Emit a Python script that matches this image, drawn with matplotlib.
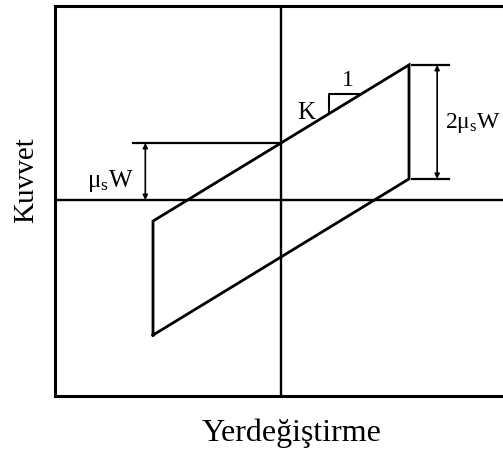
import matplotlib
matplotlib.use("Agg")
import matplotlib.pyplot as plt

plt.rcParams["font.family"] = ["Liberation Serif", "DejaVu Serif"]
plt.rcParams["mathtext.fontset"] = "custom"
plt.rcParams["mathtext.rm"] = "Liberation Serif"
plt.rcParams["mathtext.it"] = "Liberation Serif"

# Hysteresis loop of a friction bearing (displacement, force in units of mu_s W)
loop_disp = [-1.0, -1.0, 1.0, 1.0, -1.0]
loop_force = [-2.37, -0.37, 2.37, 0.37, -2.37]

# Dimension marks
mu_w_level = 1.0            # upper branch at zero displacement
mu_w_dim_x = [-1.16, 0.0]   # extension line
mu_w_arrow_x = -1.06
two_mu_w_x = [1.02, 1.31]   # extension lines at the loop's right edge
two_mu_w_arrow_x = 1.22
slope_tri_x = [0.375, 0.375, 0.62]
slope_tri_y = [1.51, 1.86, 1.86]

x_label = "Yerdeğiştirme"
y_label = "Kuvvet"

fig = plt.figure(figsize=(5.03, 4.53), dpi=100)
ax = fig.add_axes([55 / 503, 1 - 396 / 453, 460 / 503, 390 / 453])
ax.set_xlim(-226 / 128, 234 / 128)
ax.set_ylim(-196 / 57, 194 / 57)
ax.set_xticks([])
ax.set_yticks([])
for side in ["left", "top", "bottom"]:
    ax.spines[side].set_linewidth(2.2)
ax.spines["right"].set_visible(False)

ax.axhline(0, color="black", lw=1.7)
ax.axvline(0, color="black", lw=1.7)

ax.plot(loop_disp, loop_force, color="black", lw=2.0, solid_joinstyle="miter")

# mu_s W dimension
ax.plot(mu_w_dim_x, [mu_w_level, mu_w_level], color="black", lw=1.6)
ax.annotate("", xy=(mu_w_arrow_x, 0), xytext=(mu_w_arrow_x, mu_w_level),
            arrowprops=dict(arrowstyle="<|-|>", color="black", lw=1.2,
                            mutation_scale=7, shrinkA=0, shrinkB=0))
ax.text(-1.155, 0.22, r"$\mathrm{\mu_s W}$", fontsize=18, ha="right",
        va="baseline")

# 2 mu_s W dimension
for f in [loop_force[2], loop_force[3]]:
    ax.plot(two_mu_w_x, [f, f], color="black", lw=1.6)
ax.annotate("", xy=(two_mu_w_arrow_x, loop_force[3]),
            xytext=(two_mu_w_arrow_x, loop_force[2]),
            arrowprops=dict(arrowstyle="<|-|>", color="black", lw=1.2,
                            mutation_scale=7, shrinkA=0, shrinkB=0))
ax.text(1.28, 1.27, r"$\mathrm{2\mu_s W}$", fontsize=17, ha="left",
        va="baseline", clip_on=False)

# slope triangle
ax.plot(slope_tri_x, slope_tri_y, color="black", lw=1.5)
ax.text(0.52, 1.92, "1", fontsize=17, ha="center", va="bottom")
ax.text(0.2, 1.52, "K", fontsize=18, ha="center", va="center")

fig.text(292 / 503, 1 - 433 / 453, x_label, fontsize=23, ha="center",
         va="center")
fig.text(26 / 503, 1 - 180 / 453, y_label, fontsize=21, ha="center",
         va="center", rotation=90)

fig.savefig("out.png", dpi=100)
